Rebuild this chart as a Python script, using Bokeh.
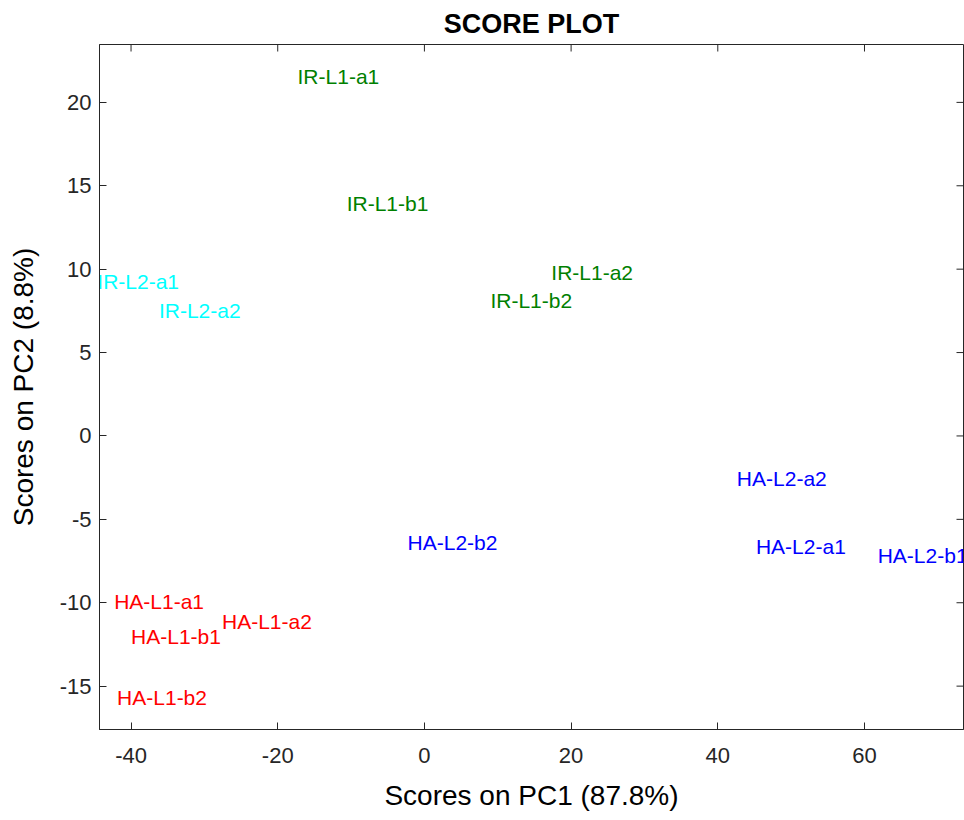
import math
from bokeh.plotting import figure
from bokeh.models import ColumnDataSource, Range1d, FixedTicker
from bokeh.core.properties import value
from bokeh.embed import file_html
from bokeh.resources import INLINE

# PCA scores per sample (PC1, PC2) and group colours
samples = ["IR-L1-a1", "IR-L1-b1", "IR-L1-a2", "IR-L1-b2",
           "IR-L2-a1", "IR-L2-a2",
           "HA-L2-a2", "HA-L2-b2", "HA-L2-a1", "HA-L2-b1",
           "HA-L1-a1", "HA-L1-b1", "HA-L1-a2", "HA-L1-b2"]
pc1 = [-17.3, -10.6, 17.3, 9.0,
       -44.6, -36.2,
       42.6, -2.3, 45.2, 61.8,
       -42.3, -40.0, -27.6, -41.9]
pc2 = [21.56, 13.95, 9.82, 8.14,
       9.28, 7.54,
       -2.57, -6.40, -6.65, -7.19,
       -9.94, -12.04, -11.14, -15.69]
groups = ["IR-L1"] * 4 + ["IR-L2"] * 2 + ["HA-L2"] * 4 + ["HA-L1"] * 4
group_colors = {"IR-L1": "#008000", "IR-L2": "#00FFFF",
                "HA-L2": "#0000FF", "HA-L1": "#FF0000"}

x_ticks = [-40, -20, 0, 20, 40, 60]
y_ticks = [-15, -10, -5, 0, 5, 10, 15, 20]
x_lim = (-44.3, 73.5)
y_lim = (-17.6, 23.47)

src = ColumnDataSource(dict(x=pc1, y=pc2, label=samples,
                            color=[group_colors[g] for g in groups]))

AX = "#262626"
FONT = "Liberation Sans"

p = figure(width=964, height=820, output_backend="svg", toolbar_location=None,
           x_range=Range1d(*x_lim), y_range=Range1d(*y_lim),
           min_border_left=99, min_border_right=1, min_border_top=43,
           min_border_bottom=91, background_fill_color="white",
           border_fill_color="white")

p.title.text = "SCORE PLOT"
p.title.align = "center"
p.title.text_font = FONT
p.title.text_font_size = "27px"
p.title.text_font_style = "bold"
p.title.text_color = "black"
p.title.offset = 0
p.title.standoff = 12

p.grid.visible = False
p.outline_line_color = AX
p.outline_line_width = 1

for ax, ticks in ((p.xaxis[0], x_ticks), (p.yaxis[0], y_ticks)):
    ax.ticker = FixedTicker(ticks=ticks)
    ax.major_label_overrides = {t: str(t) for t in ticks}
    ax.axis_line_color = AX
    ax.major_tick_line_color = AX
    ax.major_tick_in = 7
    ax.major_tick_out = 0
    ax.minor_tick_line_color = None
    ax.major_label_text_font = FONT
    ax.major_label_text_color = AX
    ax.major_label_text_font_size = "22px"
    ax.axis_label_text_font = FONT
    ax.axis_label_text_font_size = "28px"
    ax.axis_label_text_font_style = "normal"
    ax.axis_label_text_color = "black"

p.xaxis.axis_label = "Scores on PC1 (87.8%)"
p.yaxis.axis_label = "Scores on PC2 (8.8%)"
p.xaxis.major_label_standoff = 18
p.xaxis.axis_label_standoff = 14
p.yaxis.major_label_standoff = 8
p.yaxis.axis_label_standoff = 18

# inward ticks mirrored on the top and right edges of the box
p.ray(x=x_ticks, y=[y_lim[1]] * len(x_ticks), length=7, length_units="screen",
      angle=-math.pi / 2, line_color=AX, line_width=1)
p.ray(x=[x_lim[1]] * len(y_ticks), y=y_ticks, length=7, length_units="screen",
      angle=math.pi, line_color=AX, line_width=1)

p.text(x="x", y="y", text="label", source=src, text_color="color",
       text_font=value(FONT), text_font_size="21px",
       text_align="left", text_baseline="middle")

open("out.html", "w").write(file_html(p, INLINE))
